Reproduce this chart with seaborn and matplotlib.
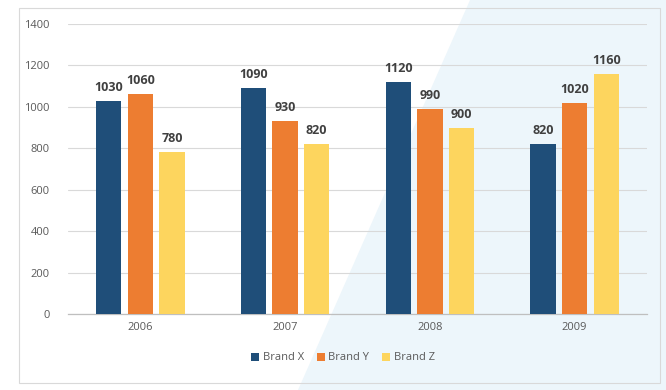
import matplotlib
matplotlib.use('Agg')
import matplotlib.pyplot as plt
import matplotlib.patches as mpatches
import seaborn as sns
import pandas as pd

years = ['2006', '2007', '2008', '2009']
brands = ['Brand X', 'Brand Y', 'Brand Z']
brand_x = [1030, 1090, 1120, 820]
brand_y = [1060, 930, 990, 1020]
brand_z = [780, 820, 900, 1160]
colors = ['#1f4e79', '#ed7d31', '#fdd55e']

df = pd.DataFrame({
    'year': years * 3,
    'brand': [b for b in brands for _ in years],
    'value': brand_x + brand_y + brand_z,
})

sns.set_style('white')
plt.rcParams['font.family'] = ['Open Sans', 'DejaVu Sans']

fig = plt.figure(figsize=(6.66, 3.9), dpi=100)
W, H = 666, 390

# background axes: light blue diagonal on the right + outer border
bg = fig.add_axes([0, 0, 1, 1], zorder=-1)
bg.set_xlim(0, W)
bg.set_ylim(H, 0)
bg.axis('off')
bg.add_patch(mpatches.Polygon([(298, H), (470, 0), (W, 0), (W, H)], closed=True,
                              facecolor='#edf6fb', edgecolor='none'))
bg.add_patch(mpatches.Rectangle((19, 8), 660 - 19, 383 - 8, fill=False,
                                edgecolor='#d9d9d9', linewidth=0.8))

ax = fig.add_axes([68 / W, 1 - 314 / H, (647 - 68) / W, (314 - 24) / H])
ax.patch.set_alpha(0)

sns.barplot(data=df, x='year', y='value', hue='brand', palette=colors,
            width=0.655, gap=0.2, ax=ax, legend=True, saturation=1,
            linewidth=0, zorder=3)

for cont in ax.containers:
    ax.bar_label(cont, padding=5, fontsize=9, fontweight='bold', color='#404040')

ax.set_ylim(0, 1400)
ax.set_yticks(range(0, 1401, 200))
ax.set_xlim(-0.5, 3.5)
ax.yaxis.grid(True, color='#d9d9d9', linewidth=0.8, zorder=0)
ax.set_axisbelow(True)
for s in ['top', 'right', 'left']:
    ax.spines[s].set_visible(False)
ax.spines['bottom'].set_color('#bfbfbf')
ax.spines['bottom'].set_linewidth(0.9)
ax.tick_params(axis='both', length=0, labelsize=8, labelcolor='#595959')
ax.tick_params(axis='y', pad=13)
ax.tick_params(axis='x', pad=6)
ax.set_xlabel('')
ax.set_ylabel('')

handles, labels = ax.get_legend_handles_labels()
ax.legend_.remove()
fig.legend(handles, labels, loc='center', bbox_to_anchor=(343 / W, 1 - 358 / H),
           ncol=3, frameon=False, fontsize=8, labelcolor='#595959',
           handlelength=0.7, handleheight=0.7, handletextpad=0.3, columnspacing=1.2)

fig.savefig('out.png', dpi=100)
